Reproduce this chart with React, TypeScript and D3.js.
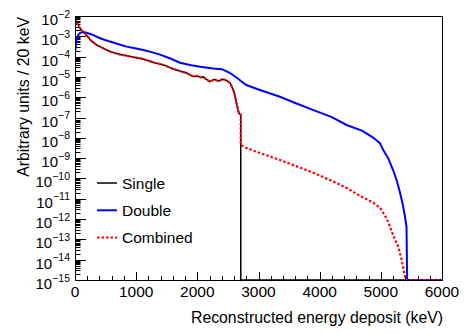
import React, { useEffect, useRef } from 'react';
import * as d3 from 'd3';

// Single (black) - energy in keV, value per 20 keV
const singleEnergy = [0, 20, 50, 80, 120, 160, 200, 250, 300, 350, 400, 480, 570, 650, 740, 845, 950, 1050, 1115, 1200, 1300, 1390, 1480, 1560, 1620, 1700, 1760, 1820, 1880, 1940, 2000, 2060, 2100, 2140, 2200, 2240, 2280, 2320, 2360, 2400, 2450, 2500, 2540, 2580, 2600, 2620, 2640, 2660, 2680, 2710];
const singleValue = [7.9e-3, 5.6e-3, 3.8e-3, 2.5e-3, 1.8e-3, 1.4e-3, 1.05e-3, 6.6e-4, 5.0e-4, 3.8e-4, 3.2e-4, 2.4e-4, 1.8e-4, 1.5e-4, 1.26e-4, 1.1e-4, 9.5e-5, 8.3e-5, 7.6e-5, 6.3e-5, 5.0e-5, 4.3e-5, 3.6e-5, 2.8e-5, 2.4e-5, 2.0e-5, 1.74e-5, 1.6e-5, 1.26e-5, 1.05e-5, 1.12e-5, 9.5e-6, 1.0e-5, 7.9e-6, 6.0e-6, 6.6e-6, 7.6e-6, 6.6e-6, 6.3e-6, 7.6e-6, 7.2e-6, 6.0e-6, 4.8e-6, 2.5e-6, 1.8e-6, 1.0e-6, 5.0e-7, 2.8e-7, 1.6e-7, 1.4e-7];
const singleTailEnergy = [2710, 6000];
const singleTailValue = [1e-16, 1e-16];

// Double (blue)
const doubleEnergy = [0, 15, 30, 55, 80, 110, 150, 190, 250, 300, 400, 480, 572, 700, 845, 1000, 1117, 1250, 1390, 1550, 1717, 1900, 2050, 2260, 2400, 2530, 2650, 2800, 3000, 3350, 3600, 3900, 4200, 4440, 4700, 4880, 4985, 5040, 5120, 5200, 5260, 5315, 5360, 5395, 5420, 5430, 6000];
const doubleValue = [1.4e-4, 4.0e-4, 7.9e-4, 1.2e-3, 1.45e-3, 1.6e-3, 1.6e-3, 1.5e-3, 1.3e-3, 1.15e-3, 8.3e-4, 6.8e-4, 5.5e-4, 4.2e-4, 3.1e-4, 2.5e-4, 2.1e-4, 1.66e-4, 1.26e-4, 8.3e-5, 5.0e-5, 3.8e-5, 3.2e-5, 2.6e-5, 2.4e-5, 1.6e-5, 8.9e-6, 4.0e-6, 2.4e-6, 1.05e-6, 5.2e-7, 2.3e-7, 1.05e-7, 4.3e-8, 2.2e-8, 1.0e-8, 5.5e-9, 2.5e-9, 1.0e-9, 2.6e-10, 7.9e-11, 1.9e-11, 5.0e-12, 1.3e-12, 4.2e-13, 1e-16, 1e-16];

// Combined (red dotted) - follows Single below the endpoint, then its own tail
const combinedTailEnergy = [2710, 2800, 3000, 3350, 3600, 3900, 4200, 4440, 4660, 4880, 4990, 5040, 5100, 5150, 5200, 5285, 5340, 5395, 5410, 6000];
const combinedTailValue = [4.5e-9, 3.2e-9, 1.9e-9, 8.1e-10, 4.2e-10, 1.9e-10, 7.6e-11, 3.4e-11, 1.4e-11, 6.3e-12, 3.5e-12, 2.0e-12, 1.0e-12, 4.3e-13, 1.6e-13, 4.4e-14, 1.0e-14, 1.5e-15, 1e-16, 1e-16];

const yExponents = d3.range(-15, -1);
const xTickValues = d3.range(0, 6001, 200);

const FONT = "'Liberation Sans', Arial, Helvetica, sans-serif";

const App = () => {
  const chartRef = useRef<SVGSVGElement | null>(null);

  useEffect(() => {
    const W = 466;
    const H = 335;
    const margin = { top: 16, right: 24, bottom: 55, left: 75 };
    const width = W - margin.left - margin.right;
    const height = H - margin.top - margin.bottom;

    const root = d3.select(chartRef.current);
    root.selectAll('*').remove();

    const x = d3.scaleLinear().domain([0, 6000]).range([0, width]);
    const y = d3.scaleLog().domain([1e-15, 1e-2]).range([height, 0]).clamp(true);

    const svg = root.append('g').attr('transform', `translate(${margin.left},${margin.top})`);

    svg
      .append('clipPath')
      .attr('id', 'plot-clip')
      .append('rect')
      .attr('x', 0)
      .attr('y', -2)
      .attr('width', width)
      .attr('height', height + 2);

    // y ticks (log, major each decade, minor 2..9)
    const yTicks: { v: number; major: boolean }[] = [];
    yExponents.forEach(e => {
      yTicks.push({ v: Math.pow(10, e), major: true });
      if (e < -2) d3.range(2, 10).forEach(k => yTicks.push({ v: k * Math.pow(10, e), major: false }));
    });
    svg
      .selectAll('.ytick')
      .data(yTicks)
      .enter()
      .append('line')
      .attr('x1', 0)
      .attr('x2', d => (d.major ? 11 : 5.5))
      .attr('y1', d => Math.round(y(d.v)) + 0.5)
      .attr('y2', d => Math.round(y(d.v)) + 0.5)
      .attr('stroke', '#000')
      .attr('stroke-width', 1);

    // y labels 10^n
    const ylab = svg
      .selectAll('.ylab')
      .data(yExponents)
      .enter()
      .append('text')
      .attr('x', -5)
      .attr('y', d => y(Math.pow(10, d)) + 9)
      .attr('text-anchor', 'end')
      .style('font-family', FONT)
      .style('font-size', '15px');
    ylab.append('tspan').text('10');
    ylab
      .append('tspan')
      .attr('dy', -7.5)
      .style('font-size', '10.5px')
      .text(d => `\u2212${Math.abs(d)}`);

    // x ticks
    svg
      .selectAll('.xtick')
      .data(xTickValues)
      .enter()
      .append('line')
      .attr('x1', d => Math.round(x(d)) + 0.5)
      .attr('x2', d => Math.round(x(d)) + 0.5)
      .attr('y1', height)
      .attr('y2', d => (d % 1000 === 0 ? height - 8 : height - 4))
      .attr('stroke', '#000')
      .attr('stroke-width', 1);

    svg
      .selectAll('.xlab')
      .data(xTickValues.filter(d => d % 1000 === 0))
      .enter()
      .append('text')
      .attr('x', d => x(d))
      .attr('y', height + 17)
      .attr('text-anchor', 'middle')
      .style('font-family', FONT)
      .style('font-size', '15.5px')
      .text(d => String(d));

    // axis titles
    svg
      .append('text')
      .attr('x', width + 1)
      .attr('y', height + 43)
      .attr('text-anchor', 'end')
      .style('font-family', FONT)
      .style('font-size', '15.8px')
      .text('Reconstructed energy deposit (keV)');

    svg
      .append('text')
      .attr('transform', `translate(${29 - margin.left},1) rotate(-90)`)
      .attr('text-anchor', 'end')
      .style('font-family', FONT)
      .style('font-size', '15.8px')
      .text('Arbitrary units / 20 keV');

    const line = d3
      .line<[number, number]>()
      .x(d => x(d[0]))
      .y(d => y(d[1]));

    const zip = (es: number[], vs: number[]) => es.map((e, i) => [e, vs[i]] as [number, number]);

    const singleData = [...zip(singleEnergy, singleValue), ...zip(singleTailEnergy, singleTailValue)];
    const doubleData = zip(doubleEnergy, doubleValue);
    const combinedData = [...zip(singleEnergy, singleValue), ...zip(combinedTailEnergy, combinedTailValue)];

    const series = [
      { label: 'Single', data: singleData, color: '#000000', width: 1.5, dash: null as string | null },
      { label: 'Double', data: doubleData, color: '#0000ff', width: 2, dash: null as string | null },
      { label: 'Combined', data: combinedData, color: '#ff0000', width: 2.2, dash: '2.5,2' },
    ];

    const plot = svg.append('g').attr('clip-path', 'url(#plot-clip)');
    series.forEach(s => {
      plot
        .append('path')
        .datum(s.data)
        .attr('fill', 'none')
        .attr('stroke', s.color)
        .attr('stroke-width', s.width)
        .attr('stroke-dasharray', s.dash)
        .attr('d', line);
    });

    // frame
    svg
      .append('rect')
      .attr('x', 0.5)
      .attr('y', 0.5)
      .attr('width', width)
      .attr('height', height)
      .attr('fill', 'none')
      .attr('stroke', '#000')
      .attr('stroke-width', 1);

    // legend
    const legend = svg.append('g').attr('transform', `translate(${97 - margin.left},${183 - margin.top})`);
    const item = legend
      .selectAll('.legend-item')
      .data(series)
      .enter()
      .append('g')
      .attr('transform', (d, i) => `translate(0,${i * 27.3})`);
    item
      .append('line')
      .attr('x1', 0)
      .attr('x2', 20)
      .attr('y1', 0)
      .attr('y2', 0)
      .attr('stroke', d => d.color)
      .attr('stroke-width', d => Math.min(d.width, 2))
      .attr('stroke-dasharray', d => d.dash);
    item
      .append('text')
      .attr('x', 25)
      .attr('y', 5.5)
      .style('font-family', FONT)
      .style('font-size', '15.5px')
      .text(d => d.label);
  }, []);

  return (
    <svg
      ref={chartRef}
      width={466}
      height={335}
      style={{ position: 'absolute', left: 0, top: 0, background: '#fff' }}
    />
  );
};

export default App;
